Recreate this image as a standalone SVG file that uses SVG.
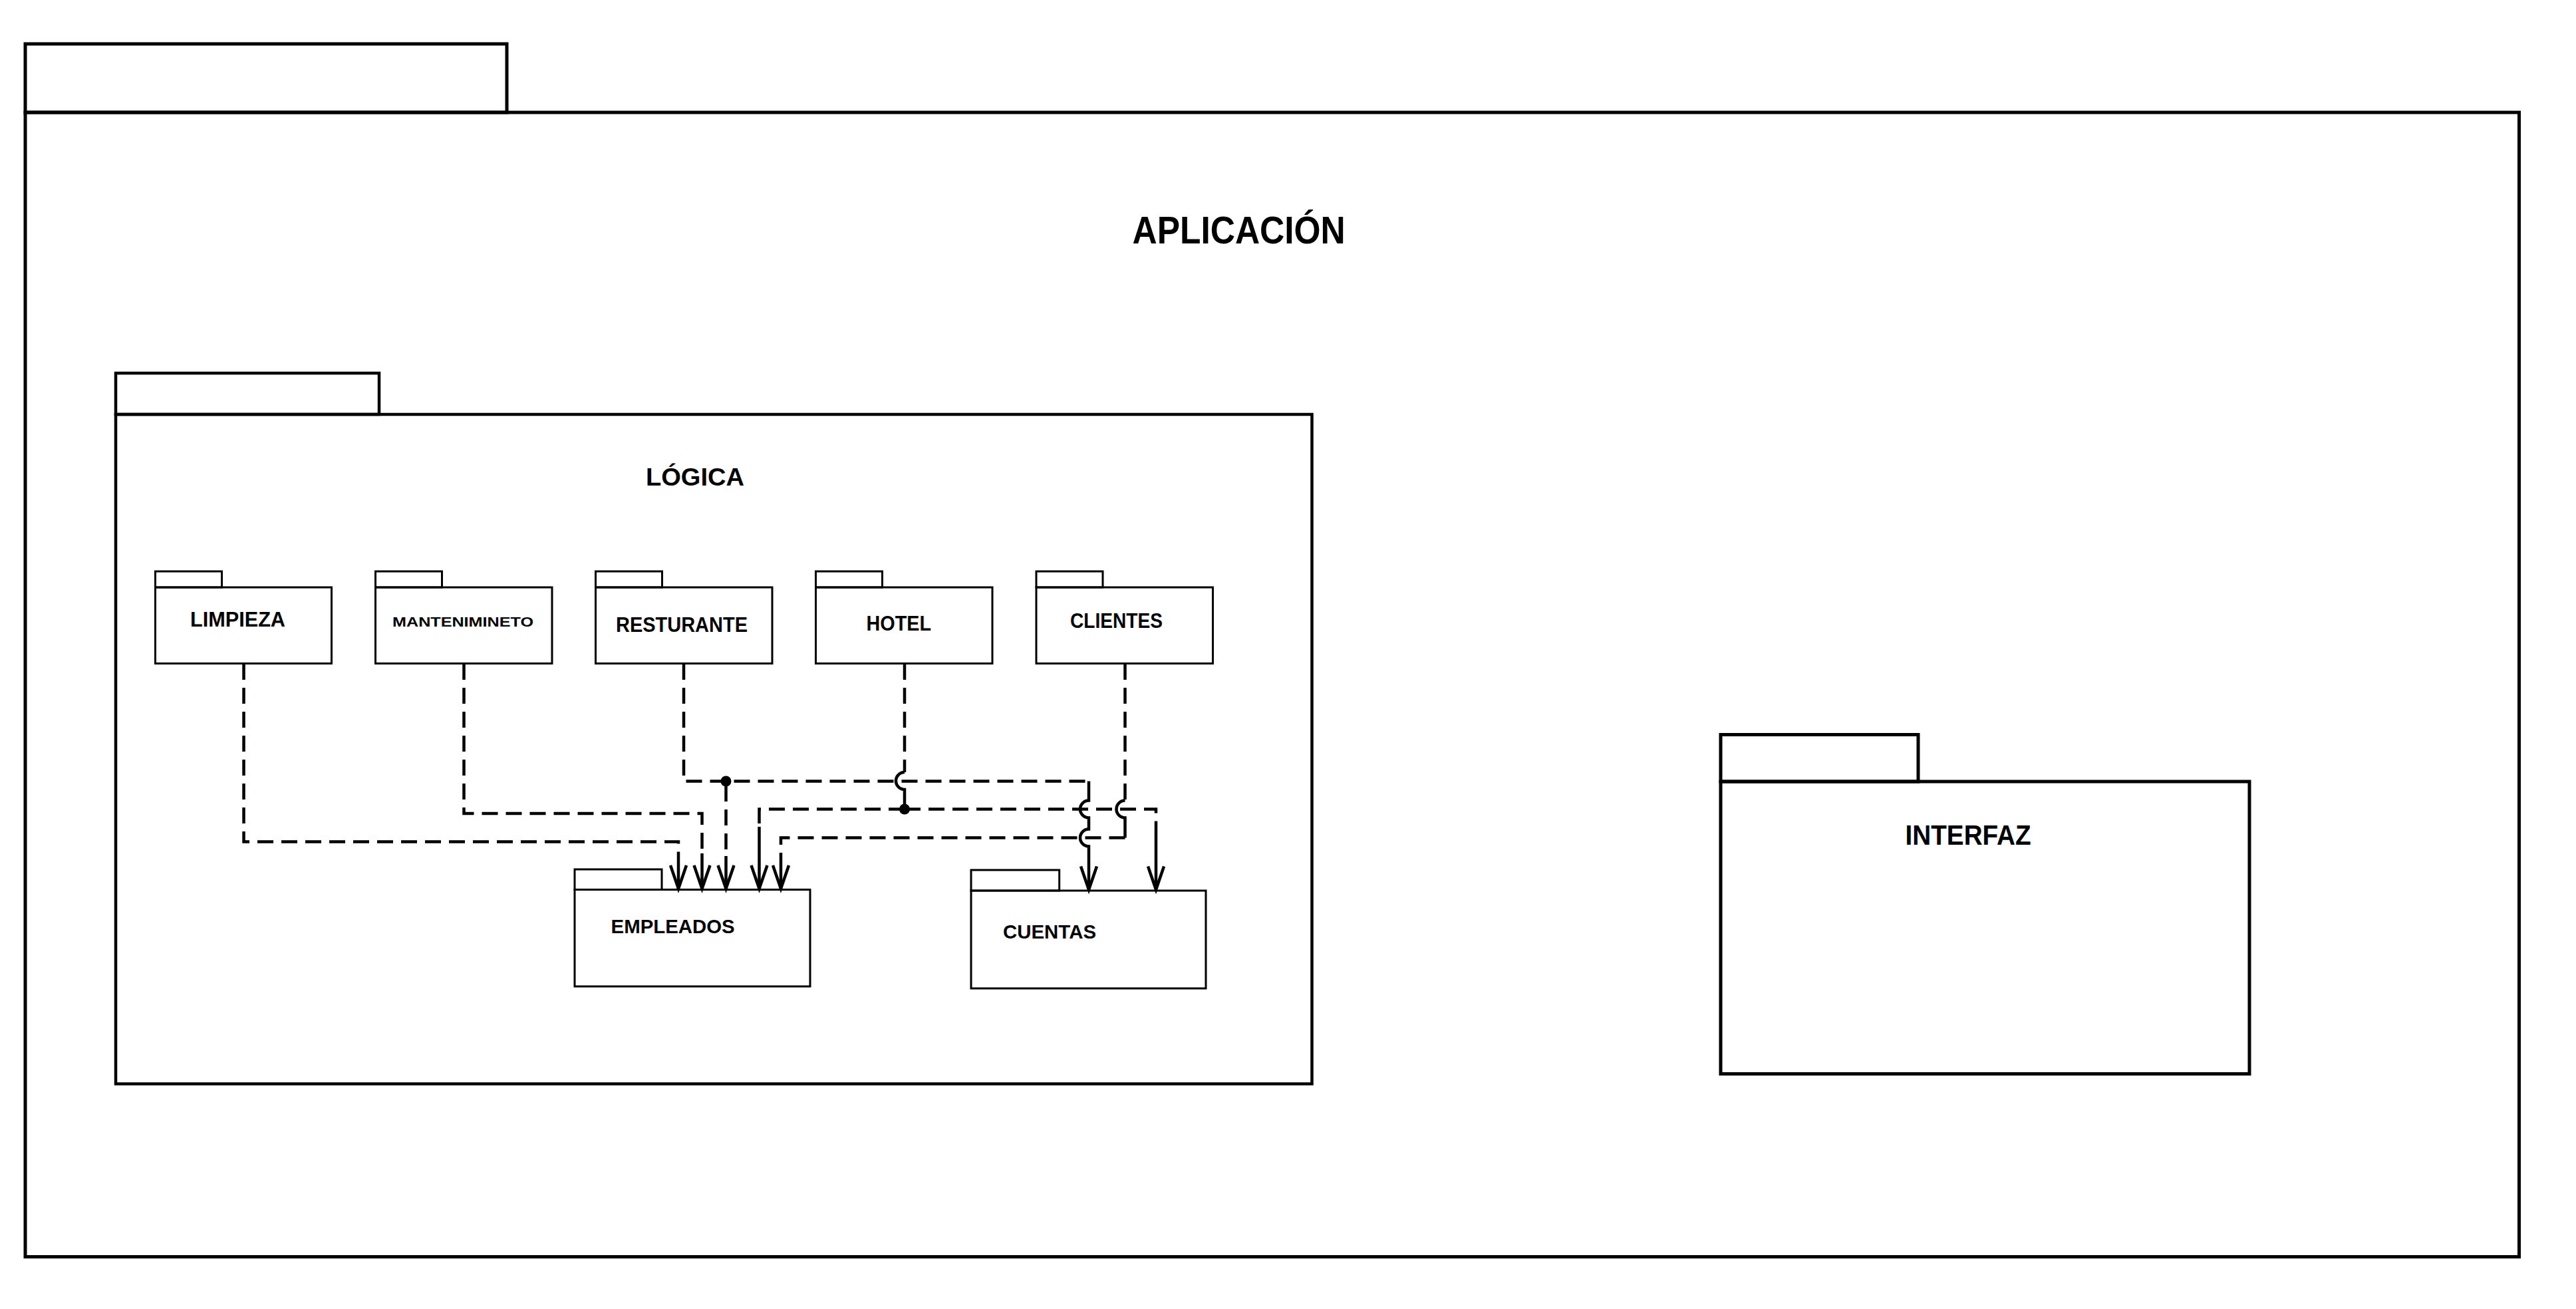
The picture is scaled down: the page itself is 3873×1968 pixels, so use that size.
<svg xmlns="http://www.w3.org/2000/svg" width="3873" height="1968" viewBox="0 0 3873 1968">
  <style>
    .pkg { fill: none; stroke: #000; }
    .big { stroke-width: 5; }
    .mid { stroke-width: 4.5; }
    .small { stroke-width: 3; }
    .lbl { font-family: "Liberation Sans", "Noto Sans", Arial, sans-serif; font-weight: bold; fill: #000; }
    .dash { fill: none; stroke: #000; stroke-width: 4.5; stroke-dasharray: 24 12; }
    .solid { fill: none; stroke: #000; stroke-width: 4.5; }
    .dot { fill: #000; }
  </style>
  <defs>
    <marker id="open-arrow" markerUnits="userSpaceOnUse" markerWidth="50" markerHeight="40" viewBox="-40 -20 50 40" refX="0" refY="0" orient="auto" overflow="visible">
      <path d="M -35 -12 L 0 0 L -35 12" fill="none" stroke="#000" stroke-width="4.5" stroke-linejoin="miter"/>
    </marker>
  </defs>

  <rect width="3873" height="1968" fill="#fff"/>

  <!-- APLICACIÓN package -->
  <g id="aplicacion">
    <rect class="pkg big" x="38" y="66" width="724" height="103"/>
    <rect class="pkg big" x="38" y="169" width="3749.5" height="1720.5"/>
    <text class="lbl" x="1702.6" y="366" font-size="57" textLength="320" lengthAdjust="spacingAndGlyphs">APLICACIÓN</text>
  </g>

  <!-- LÓGICA package -->
  <g id="logica">
    <rect class="pkg mid" x="174" y="561" width="396" height="62"/>
    <rect class="pkg mid" x="174" y="623" width="1798.5" height="1006.5"/>
    <text class="lbl" x="971" y="730" font-size="37" textLength="148" lengthAdjust="spacingAndGlyphs">LÓGICA</text>
  </g>

  <!-- INTERFAZ package -->
  <g id="interfaz">
    <rect class="pkg big" x="2587" y="1104.5" width="297" height="70.5"/>
    <rect class="pkg big" x="2587" y="1175" width="795" height="439.5"/>
    <text class="lbl" x="2864.6" y="1270" font-size="42" textLength="189" lengthAdjust="spacingAndGlyphs">INTERFAZ</text>
  </g>

  <!-- inner packages -->
  <g id="limpieza">
    <rect class="pkg small" x="233.5" y="859" width="100" height="24"/>
    <rect class="pkg small" x="233.5" y="883" width="265" height="114.5"/>
    <text class="lbl" x="286" y="942" font-size="31" textLength="143" lengthAdjust="spacingAndGlyphs">LIMPIEZA</text>
  </g>
  <g id="mantenimineto">
    <rect class="pkg small" x="564.5" y="859" width="100" height="24"/>
    <rect class="pkg small" x="564.5" y="883" width="265.5" height="114.5"/>
    <text class="lbl" x="590" y="942" font-size="21" textLength="212" lengthAdjust="spacingAndGlyphs">MANTENIMINETO</text>
  </g>
  <g id="resturante">
    <rect class="pkg small" x="895.5" y="859" width="100" height="24"/>
    <rect class="pkg small" x="895.5" y="883" width="265.5" height="114.5"/>
    <text class="lbl" x="926" y="950" font-size="31" textLength="198" lengthAdjust="spacingAndGlyphs">RESTURANTE</text>
  </g>
  <g id="hotel">
    <rect class="pkg small" x="1226.5" y="859" width="100" height="24"/>
    <rect class="pkg small" x="1226.5" y="883" width="265.5" height="114.5"/>
    <text class="lbl" x="1302.5" y="948" font-size="31" textLength="97.5" lengthAdjust="spacingAndGlyphs">HOTEL</text>
  </g>
  <g id="clientes">
    <rect class="pkg small" x="1558" y="859" width="100" height="24"/>
    <rect class="pkg small" x="1558" y="883" width="265.5" height="114.5"/>
    <text class="lbl" x="1609" y="944" font-size="31" textLength="139" lengthAdjust="spacingAndGlyphs">CLIENTES</text>
  </g>
  <g id="empleados">
    <rect class="pkg small" x="864" y="1307" width="131" height="30.5"/>
    <rect class="pkg small" x="864" y="1337.5" width="354" height="145.5"/>
    <text class="lbl" x="918.6" y="1403" font-size="30" textLength="186" lengthAdjust="spacingAndGlyphs">EMPLEADOS</text>
  </g>
  <g id="cuentas">
    <rect class="pkg small" x="1460" y="1308" width="132.7" height="31"/>
    <rect class="pkg small" x="1460" y="1339" width="353" height="147"/>
    <text class="lbl" x="1508" y="1411" font-size="30" textLength="140" lengthAdjust="spacingAndGlyphs">CUENTAS</text>
  </g>

  <!-- dependency connectors -->
  <g id="connectors">
    <!-- LIMPIEZA -> EMPLEADOS -->
    <path class="dash" d="M 366.5 998 V 1265.5 H 1020 V 1290"/>
    <path class="solid" d="M 1020 1290 V 1336" marker-end="url(#open-arrow)"/>

    <!-- MANTENIMINETO -> EMPLEADOS -->
    <path class="dash" d="M 697.5 998 V 1223 H 1055.5 V 1283"/>
    <path class="solid" d="M 1055.5 1283 V 1336" marker-end="url(#open-arrow)"/>

    <!-- RESTURANTE -> EMPLEADOS / CUENTAS -->
    <path class="dash" d="M 1028 998 V 1174.5 H 1637"/>
    <path class="solid" d="M 1637 1174.5 V 1203.5 A 13 13 0 0 0 1637 1229.5 V 1246.5 A 13 13 0 0 0 1637 1272.5 V 1337.5" marker-end="url(#open-arrow)"/>
    <path class="solid" d="M 1091.5 1174.5 V 1205"/>
    <path class="dash" d="M 1091.5 1217 V 1287"/>
    <path class="solid" d="M 1091.5 1287 V 1336" marker-end="url(#open-arrow)"/>
    <circle class="dot" cx="1091.5" cy="1174.5" r="8"/>

    <!-- HOTEL -> EMPLEADOS / CUENTAS -->
    <path class="dash" d="M 1360 998 V 1161"/>
    <path class="solid" d="M 1360 1161 A 13 13 0 0 0 1360 1187 V 1216.5"/>
    <path class="dash" d="M 1360 1216.5 H 1141.5 V 1243"/>
    <path class="solid" d="M 1141.5 1243 V 1336" marker-end="url(#open-arrow)"/>
    <path class="dash" d="M 1360 1216.5 H 1738 V 1253"/>
    <path class="solid" d="M 1738 1253 V 1337.5" marker-end="url(#open-arrow)"/>
    <circle class="dot" cx="1360" cy="1216.5" r="8"/>

    <!-- CLIENTES -> EMPLEADOS -->
    <path class="dash" d="M 1691.5 998 V 1203.5"/>
    <path class="solid" d="M 1691.5 1203.5 A 13 13 0 0 0 1691.5 1229.5 V 1259.5"/>
    <path class="dash" d="M 1691.5 1259.5 H 1174 V 1287"/>
    <path class="solid" d="M 1174 1287 V 1336" marker-end="url(#open-arrow)"/>
  </g>
</svg>
